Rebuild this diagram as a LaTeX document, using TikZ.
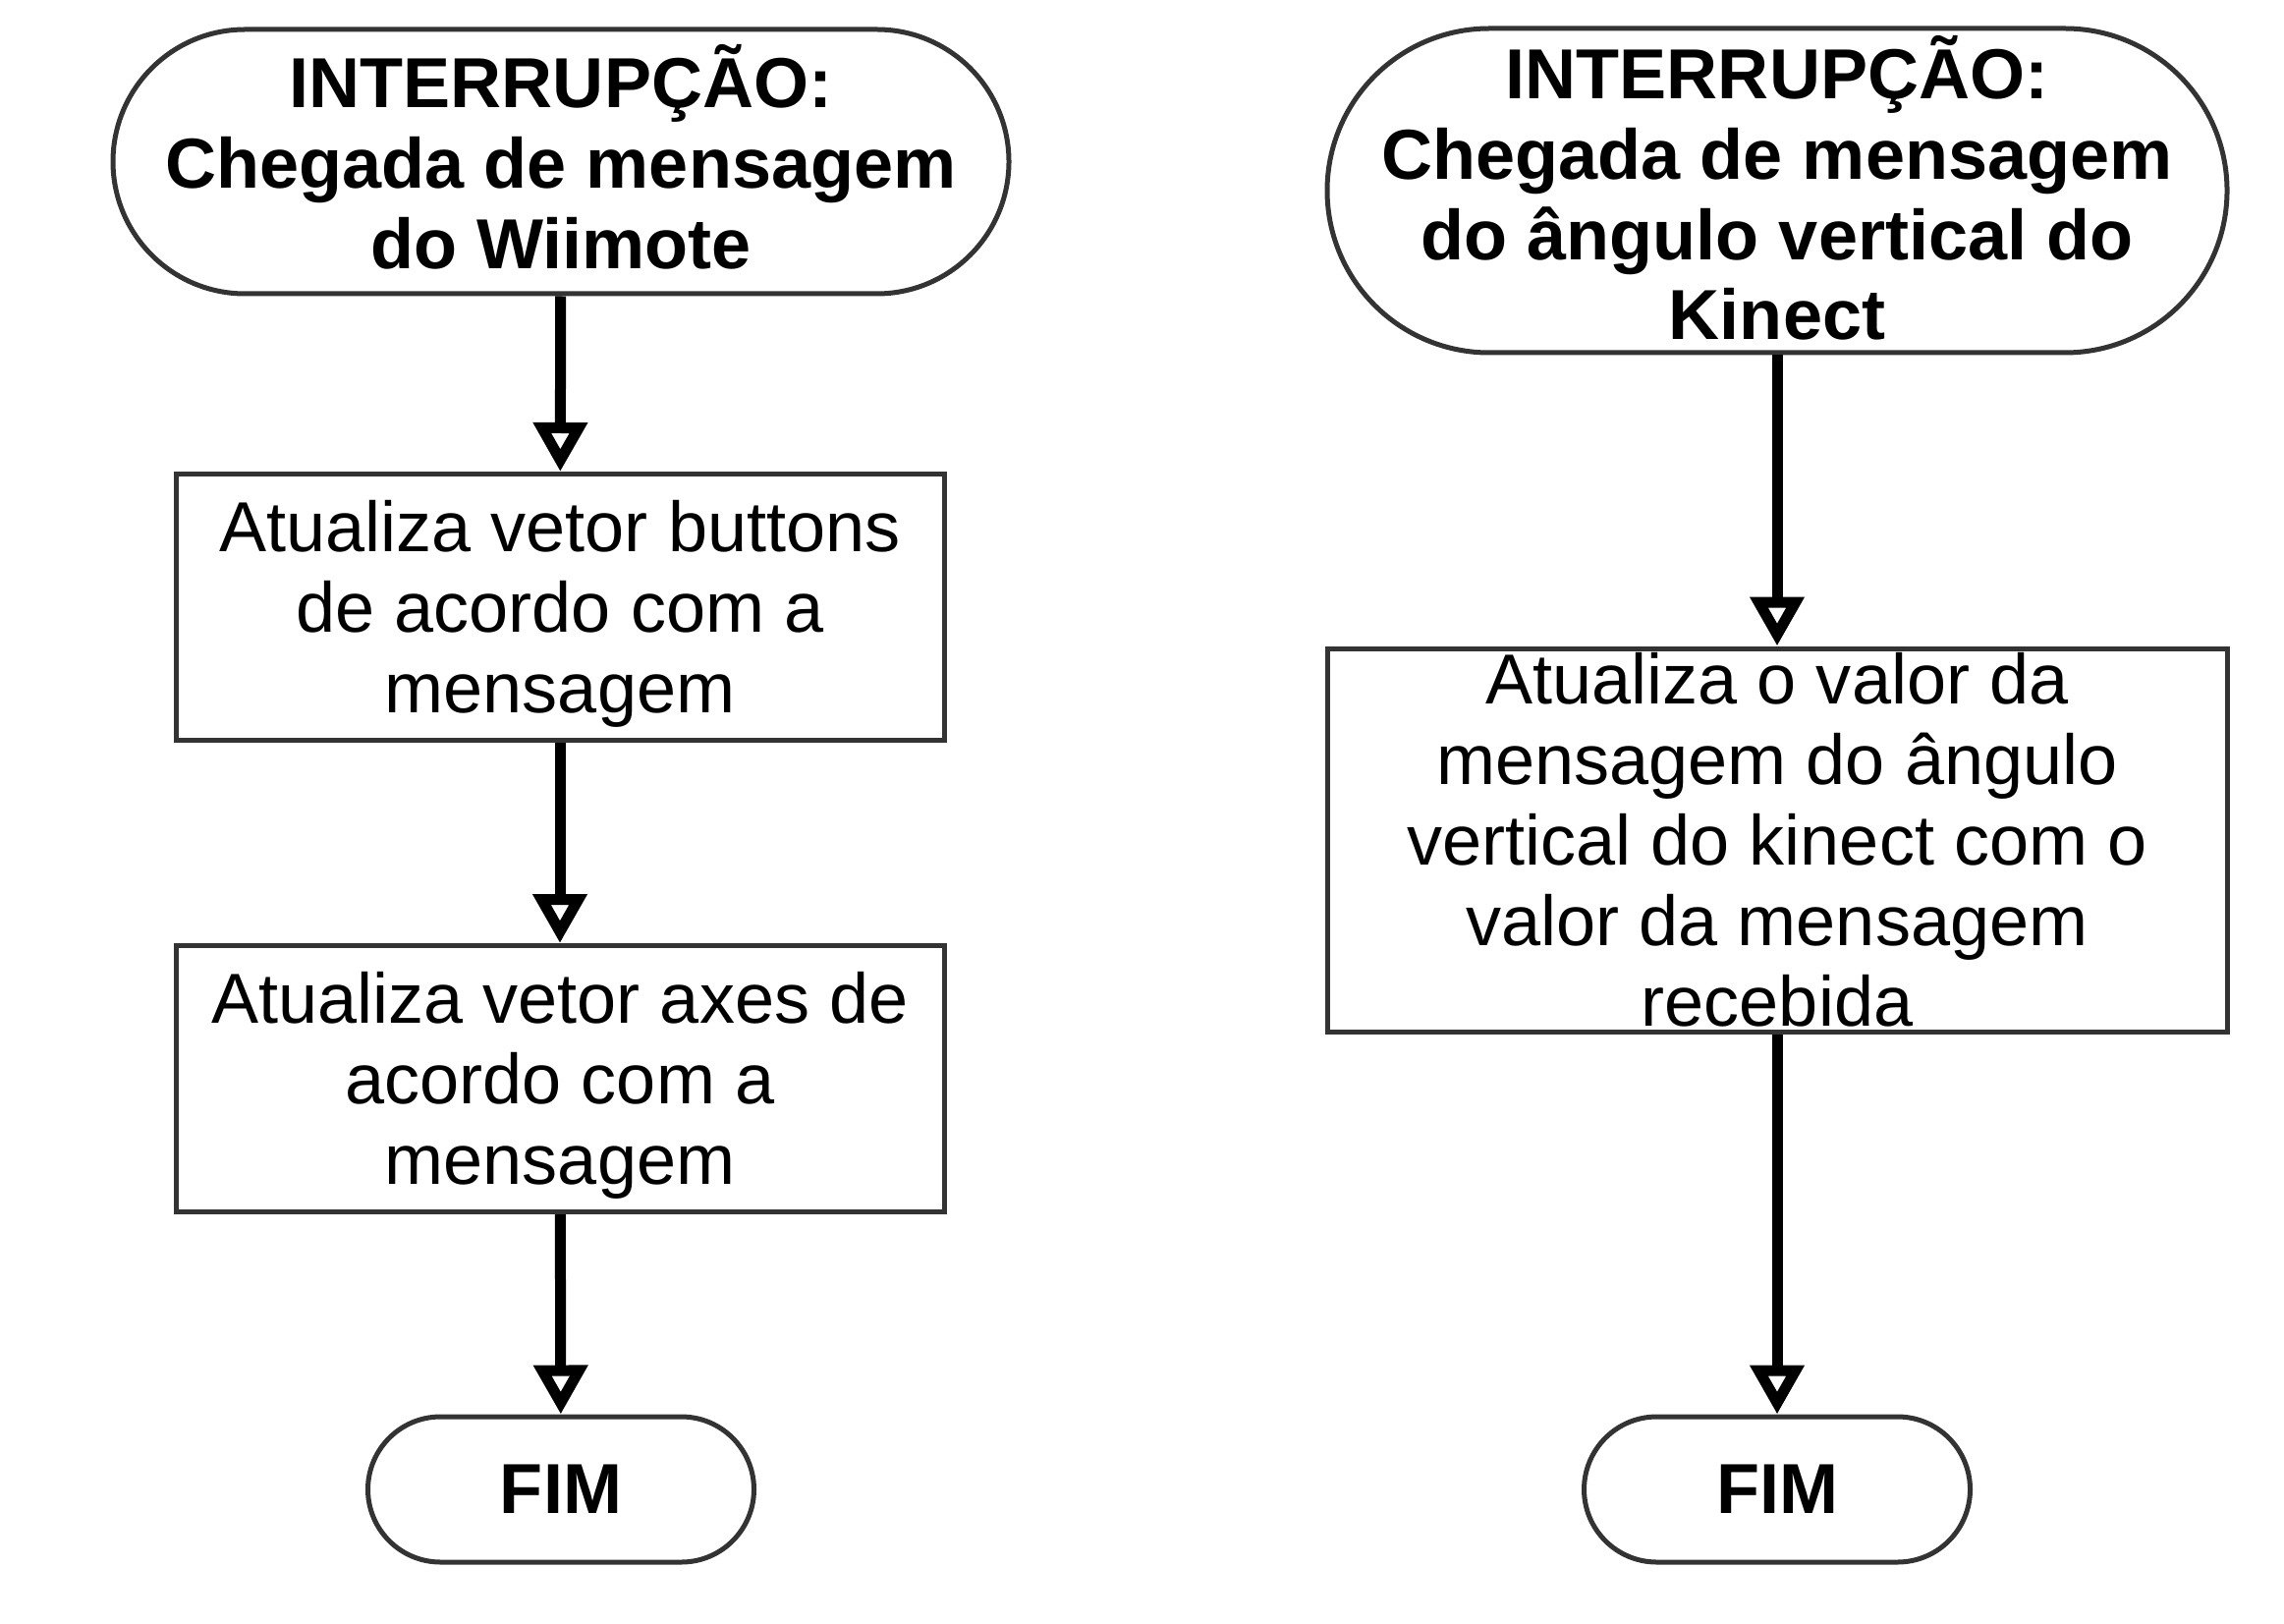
\documentclass[tikz,border=0pt]{standalone}
\usepackage{fontspec}
\setmainfont{Liberation Sans}
\usetikzlibrary{arrows.meta}
\definecolor{borda}{HTML}{333333}
\tikzset{
  terminal/.style={draw=borda,line width=0.05cm,align=center,inner sep=0pt,
    font=\fontsize{20.5}{23.3}\selectfont\bfseries},
  process/.style={draw=borda,line width=0.05cm,align=center,inner sep=0pt,
    font=\fontsize{20.5}{23.3}\selectfont},
  flow/.style={line width=0.11cm,-{Triangle[open,length=0.5cm,width=0.53cm]}}
}
\begin{document}
\begin{tikzpicture}
      \useasboundingbox (0,0) rectangle (23.25,-16.52);
      % coluna do Wiimote
      \node[terminal,minimum width=9.12cm,minimum height=2.69cm,rounded corners=1.345cm] (iniW) at ( 5.71,-1.645) {INTERRUPÇÃO:\\Chegada de mensagem\\do Wiimote\rule[-2.8pt]{0pt}{0pt}};
      \node[process,minimum width=7.82cm,minimum height=2.71cm] (btn) at ( 5.70,-6.18) {\rule{0pt}{18.7pt}Atualiza vetor buttons\\de acordo com a\\mensagem};
      \node[process,minimum width=7.82cm,minimum height=2.71cm] (axs) at ( 5.70,-10.98) {\rule{0pt}{18.7pt}Atualiza vetor axes de\\acordo com a\\mensagem};
      \node[terminal,minimum width=3.93cm,minimum height=1.48cm,rounded corners=0.74cm] (fimW) at ( 5.71,-15.16) {FIM};
      % coluna do Kinect
      \node[terminal,minimum width=9.16cm,minimum height=3.30cm,rounded corners=1.65cm] (iniK) at (18.09,-1.94) {INTERRUPÇÃO:\\Chegada de mensagem\\do ângulo vertical do\\Kinect\rule[-1.7pt]{0pt}{0pt}};
      \node[process,minimum width=9.16cm,minimum height=3.90cm] (ang) at (18.09,-8.55) {Atualiza o valor da\\mensagem do ângulo\\vertical do kinect com o\\valor da mensagem\\recebida};
      \node[terminal,minimum width=3.93cm,minimum height=1.48cm,rounded corners=0.74cm] (fimK) at (18.09,-15.16) {FIM};
      \draw[flow] (iniW) -- (btn);
      \draw[flow] (btn) -- (axs);
      \draw[flow] (axs) -- (fimW);
      \draw[flow] (iniK) -- (ang);
      \draw[flow] (ang) -- (fimK);
    \end{tikzpicture}
\end{document}
